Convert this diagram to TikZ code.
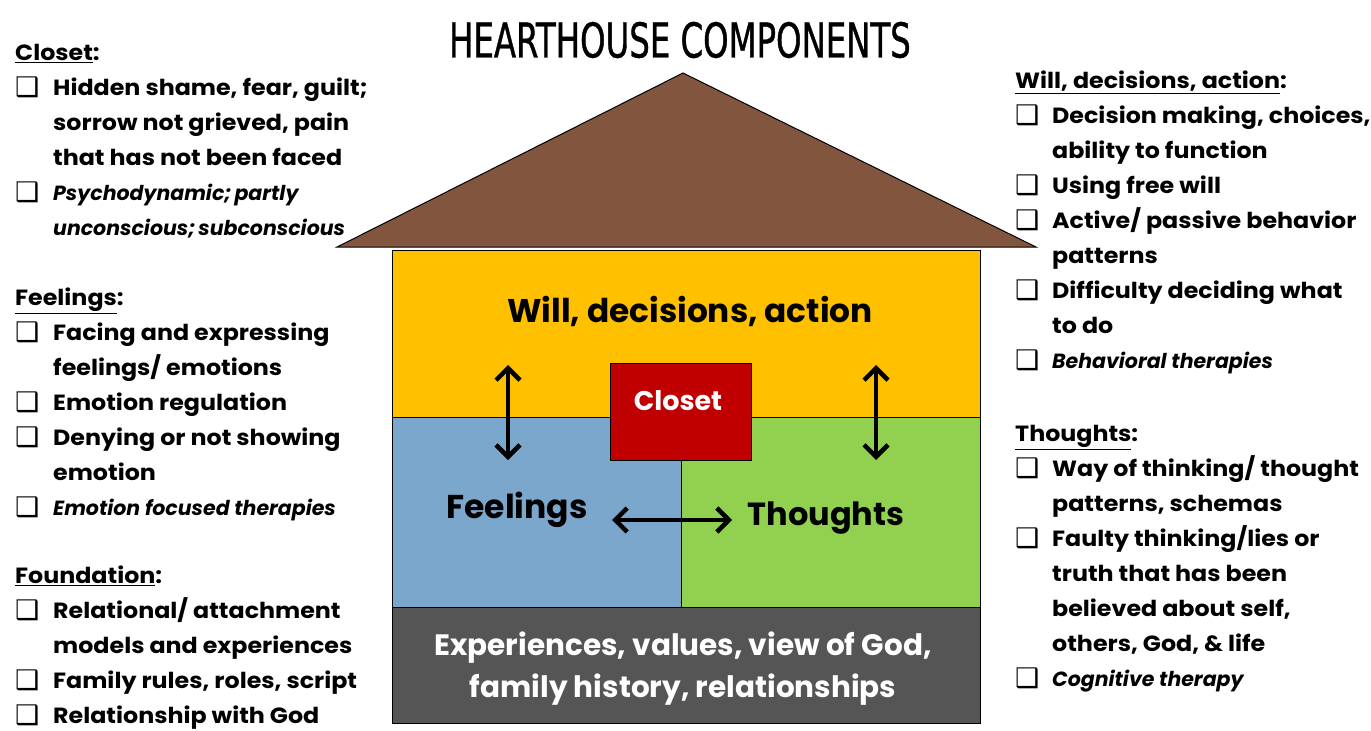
\documentclass[tikz,border=0pt]{standalone}
\usepackage{fontspec}
\setmainfont{Poppins}
\newfontfamily\notesfont[FakeStretch=1.08]{Poppins}
\newfontfamily\titlefont[FakeStretch=0.75, FakeBold=0.8]{DejaVu Sans Condensed}
\newfontfamily\boxfont{DejaVu Sans}
\usetikzlibrary{arrows.meta, positioning}

\definecolor{roofbrown}{RGB}{130,85,62}
\definecolor{willyellow}{RGB}{255,192,0}
\definecolor{feelblue}{RGB}{124,167,204}
\definecolor{thoughtgreen}{RGB}{146,208,80}
\definecolor{foundgray}{RGB}{85,85,85}
\definecolor{closetred}{RGB}{192,0,0}

\newcommand\chkbox{{\boxfont\fontsize{27}{35}\selectfont\raisebox{-1pt}{\char"2751}}}
\newcommand\listfont{\notesfont\fontsize{22}{35}\selectfont\bfseries}
% italic lines (therapies), a bit smaller
\newcommand\therapy{\rmfamily\fontsize{20.5}{35}\selectfont\bfseries\itshape}

\begin{document}
\begin{tikzpicture}[x=1pt, y=-1pt,
    part/.style={draw=black, line width=0.8pt, inner sep=0pt, anchor=north west},
    roomtext/.style={font=\fontsize{32.8}{36}\selectfont\bfseries, inner sep=0pt},
    twoway/.style={{Straight Barb[length=12pt, width=24pt]}-{Straight Barb[length=12pt, width=24pt]}, line width=4.5pt},
    notes/.style={anchor=north west, inner sep=0pt, font=\listfont}]

    \useasboundingbox (0, 0) rectangle (1371, 731);

    % Title
    \node at (680, 40) [font=\titlefont\fontsize{48}{50}\selectfont] (title) {HEARTHOUSE COMPONENTS};

    % Roof
    \draw[fill=roofbrown, line width=1pt] (337, 247) -- (683, 73) -- (1036, 247) -- cycle;

    % House rooms
    \node at (392, 250) [part, fill=willyellow, minimum width=588pt, minimum height=167pt] (will) {};
    \node at (392, 417) [part, fill=feelblue, minimum width=289pt, minimum height=190pt] (feel) {};
    \node at (681, 417) [part, fill=thoughtgreen, minimum width=299pt, minimum height=190pt] (thought) {};
    \node at (392, 607) [part, fill=foundgray, minimum width=588pt, minimum height=116pt] (found) {};
    \node at (610, 363) [part, fill=closetred, minimum width=141pt, minimum height=97pt] (closet) {};

    \node at (690, 311) [roomtext] (willlbl) {Will, decisions, action};
    \node at (517, 510) [roomtext, font=\fontsize{33}{36}\selectfont\bfseries] (feellbl) {Feelings};
    \node at (826, 518) [roomtext, font=\fontsize{32}{36}\selectfont\bfseries] (thoughtlbl) {Thoughts};
    \node at (678, 401) [roomtext, text=white, font=\fontsize{27}{30}\selectfont\bfseries] (closetlbl) {Closet};
    \node at (683, 669) [roomtext, text=white, align=center, font=\fontsize{29.5}{42}\selectfont\bfseries] (foundlbl)
        {Experiences, values, view of God,\\ family history, relationships};

    % Two-way arrows
    \coordinate (fw1) at (508, 365);
    \coordinate (fw2) at (508, 460);
    \coordinate (tw1) at (876, 365);
    \coordinate (tw2) at (876, 460);
    \coordinate (ft1) at (612, 520);
    \coordinate (ft2) at (732, 520);
    \draw[twoway] (fw1) -- (fw2);
    \draw[twoway] (tw1) -- (tw2);
    \draw[twoway] (ft1) -- (ft2);

    % Notes, left side
    \node at (15, 36) [notes] (closetnotes) {\begin{tabular}{@{}p{38pt}@{}l@{}}
        \multicolumn{2}{@{}l@{}}{\underline{Closet}:}\\
        \chkbox & Hidden shame, fear, guilt;\\
                & sorrow not grieved, pain\\
                & that has not been faced\\
        \chkbox & \therapy Psychodynamic;\hspace{3pt}partly\\
                & \therapy unconscious;\hspace{3pt}subconscious
    \end{tabular}};
    \node at (15, 281) [notes] (feelnotes) {\begin{tabular}{@{}p{38pt}@{}l@{}}
        \multicolumn{2}{@{}l@{}}{\underline{Feelings}:}\\
        \chkbox & Facing and expressing\\
                & feelings/ emotions\\
        \chkbox & Emotion regulation\\
        \chkbox & Denying or not showing\\
                & emotion\\
        \chkbox & \therapy Emotion focused therapies
    \end{tabular}};
    \node at (15, 559) [notes] (foundnotes) {\begin{tabular}{@{}p{38pt}@{}l@{}}
        \multicolumn{2}{@{}l@{}}{\underline{Foundation}:}\\
        \chkbox & Relational/ attachment\\
                & models and experiences\\
        \chkbox & Family rules, roles, script\\
        \chkbox & Relationship with God
    \end{tabular}};

    % Notes, right side
    \node at (1015, 64) [notes] (willnotes) {\begin{tabular}{@{}p{37pt}@{}l@{}}
        \multicolumn{2}{@{}l@{}}{\underline{Will, decisions, action}:}\\
        \chkbox & Decision making, choices,\\
                & ability to function\\
        \chkbox & Using free will\\
        \chkbox & Active/ passive behavior\\
                & patterns\\
        \chkbox & Difficulty deciding what\\
                & to do\\
        \chkbox & \therapy Behavioral therapies
    \end{tabular}};
    \node at (1015, 417) [notes] (thoughtnotes) {\begin{tabular}{@{}p{37pt}@{}l@{}}
        \multicolumn{2}{@{}l@{}}{\underline{Thoughts}:}\\
        \chkbox & Way of thinking/ thought\\
                & patterns, schemas\\
        \chkbox & Faulty thinking/lies or\\
                & truth that has been\\
                & believed about self,\\
                & others, God, \& life\\
        \chkbox & \therapy Cognitive therapy
    \end{tabular}};
\end{tikzpicture}
\end{document}
